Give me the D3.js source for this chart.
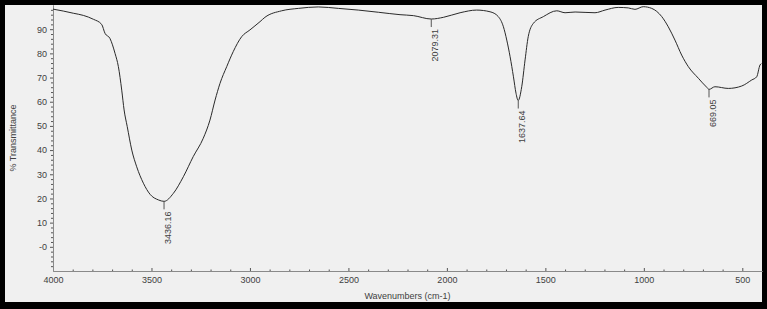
<!DOCTYPE html>
<html>
<head>
<meta charset="utf-8">
<script src="https://cdn.jsdelivr.net/npm/d3@7"></script>
<style>
  body { margin: 0; background: #000; }
  svg text { font-family: "Liberation Sans", Arial, sans-serif; }
</style>
</head>
<body>
<svg id="chart" width="767" height="309"></svg>
<script>
// spectrum (cm-1, %T)
const wavenumbers = [4000, 3948, 3897, 3846, 3795, 3753, 3736, 3711, 3685, 3668, 3651, 3639, 3623, 3600, 3575, 3541, 3507, 3465, 3436, 3389, 3338, 3288, 3237, 3203, 3177, 3152, 3118, 3085, 3042, 3000, 2949, 2924, 2839, 2754, 2653, 2551, 2450, 2348, 2238, 2170, 2079, 2018, 1933, 1849, 1781, 1739, 1713, 1696, 1679, 1662, 1649, 1638, 1620, 1603, 1587, 1561, 1510, 1442, 1400, 1349, 1248, 1197, 1130, 1079, 1045, 1003, 960, 909, 876, 842, 808, 774, 723, 681, 669, 639, 571, 503, 452, 427, 410, 403];
const transmittance = [98.3, 97.5, 96.6, 95.7, 94.1, 92.0, 88.3, 86.2, 80.0, 74.5, 64.8, 56.6, 49.7, 40.0, 33.1, 26.3, 21.7, 19.4, 18.8, 22.1, 29.0, 37.3, 44.9, 52.4, 60.7, 67.6, 74.5, 80.7, 86.9, 89.7, 93.1, 94.9, 97.6, 98.6, 99.2, 98.6, 97.9, 97.0, 96.0, 95.6, 94.2, 94.9, 96.8, 97.9, 97.2, 95.2, 91.0, 85.5, 78.6, 70.3, 63.5, 60.5, 66.2, 77.3, 86.9, 92.4, 95.2, 97.6, 96.8, 97.1, 96.8, 97.9, 99.0, 98.8, 98.2, 99.3, 98.6, 95.2, 91.0, 85.5, 79.3, 74.5, 69.7, 66.0, 65.1, 66.2, 65.5, 66.5, 69.0, 70.3, 75.2, 75.8];

const peakWavenumbers = [3436.16, 2079.31, 1637.64, 669.05];
const peakValues = [18.8, 94.2, 60.5, 65.1];
const peakLabels = ["3436.16", "2079.31", "1637.64", "669.05"];

const xMajorTicks = [4000, 3500, 3000, 2500, 2000, 1500, 1000, 500];
const yMajorTicks = [0, 10, 20, 30, 40, 50, 60, 70, 80, 90];
const yTickLabels = ["-0", "10", "20", "30", "40", "50", "60", "70", "80", "90"];

const W = 767, H = 309;
const svg = d3.select("#chart");

// black frame + grey panel
svg.append("rect").attr("width", W).attr("height", H).attr("fill", "#000");
svg.append("rect").attr("x", 5).attr("y", 5).attr("width", 757).attr("height", 297).attr("fill", "#f0f0f0");

const plot = { left: 53, right: 762, top: 5, bottom: 271 };

const x = d3.scaleLinear().domain([4000, 400]).range([plot.left, plot.right]);
const y = d3.scaleLinear().domain([-10, 100]).range([plot.bottom, plot.top]);

const axisColor = "#8a8a8a";
const textColor = "#404040";

// x axis: minor ticks every 100, major every 500
const xMinor = d3.range(3900, 400, -100).filter(v => v % 500 !== 0);
svg.append("g")
  .attr("transform", `translate(0,${plot.bottom})`)
  .call(d3.axisBottom(x).tickValues(xMinor).tickSizeInner(-1.5).tickSizeOuter(0).tickFormat(""));
const gx = svg.append("g")
  .attr("transform", `translate(0,${plot.bottom})`)
  .call(d3.axisBottom(x).tickValues(xMajorTicks).tickSizeInner(-3).tickSizeOuter(0).tickPadding(6)
    .tickFormat(d3.format("d")));
gx.selectAll("text").style("font-size", "9px").attr("fill", textColor);

// y axis: minor ticks every 2, major every 10
const yMinor = d3.range(-8, 100, 2).filter(v => v % 10 !== 0);
svg.append("g")
  .attr("transform", `translate(${plot.left},0)`)
  .call(d3.axisLeft(y).tickValues(yMinor).tickSizeInner(2).tickSizeOuter(0).tickFormat(""));
const gy = svg.append("g")
  .attr("transform", `translate(${plot.left},0)`)
  .call(d3.axisLeft(y).tickValues(yMajorTicks).tickSizeInner(3).tickSizeOuter(0).tickPadding(3)
    .tickFormat((d, i) => yTickLabels[i]));
gy.selectAll("text").style("font-size", "9px").attr("fill", textColor);

svg.selectAll(".domain").attr("stroke", axisColor);
svg.selectAll(".tick line").attr("stroke", "#555");

// axis titles
svg.append("text")
  .attr("x", (plot.left + plot.right) / 2)
  .attr("y", 299)
  .attr("text-anchor", "middle")
  .style("font-size", "9px")
  .attr("fill", textColor)
  .text("Wavenumbers (cm-1)");

svg.append("text")
  .attr("transform", `translate(16,${(plot.top + plot.bottom) / 2}) rotate(-90)`)
  .attr("text-anchor", "middle")
  .style("font-size", "9px")
  .attr("fill", textColor)
  .text("% Transmittance");

// spectrum
const spectrum = wavenumbers.map((w, i) => ({ w: w, t: transmittance[i] }));
const line = d3.line().x(d => x(d.w)).y(d => y(d.t)).curve(d3.curveMonotoneX);

svg.append("path")
  .datum(spectrum)
  .attr("fill", "none")
  .attr("stroke", "#2a2a2a")
  .attr("stroke-width", 1)
  .attr("d", line);

// peak markers + labels
const peaks = peakWavenumbers.map((w, i) => ({ w: w, t: peakValues[i], label: peakLabels[i] }));

const pk = svg.append("g").selectAll("g").data(peaks).enter().append("g");

pk.append("line")
  .attr("x1", d => x(d.w)).attr("x2", d => x(d.w))
  .attr("y1", d => y(d.t)).attr("y2", d => y(d.t) + 8)
  .attr("stroke", "#555")
  .attr("stroke-width", 1);

pk.append("text")
  .attr("transform", d => `translate(${x(d.w) + 7},${y(d.t) + 10}) rotate(-90)`)
  .attr("text-anchor", "end")
  .style("font-size", "9px")
  .attr("fill", textColor)
  .text(d => d.label);
</script>
</body>
</html>
